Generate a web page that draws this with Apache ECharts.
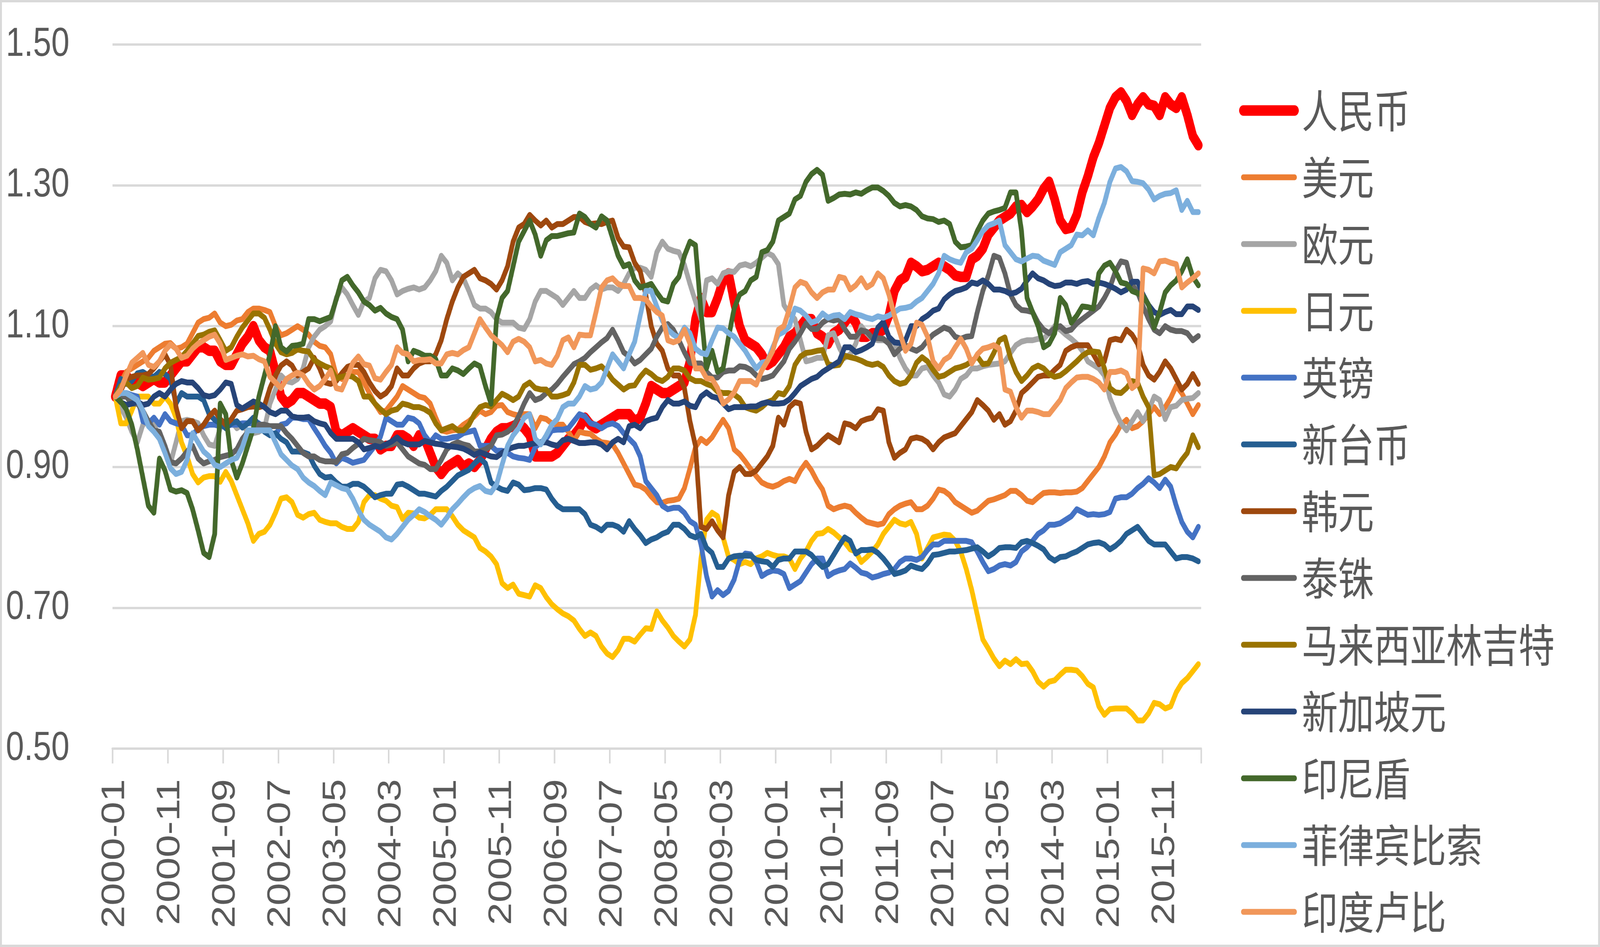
<!DOCTYPE html>
<html>
<head>
<meta charset="utf-8">
<script src="https://cdn.jsdelivr.net/npm/echarts@6/dist/echarts.min.js"></script>
<style>
html,body{margin:0;padding:0;background:#fff;overflow:hidden;width:100%;height:100%;}
#c{width:5094px;height:2425px;position:absolute;left:0;top:0;transform-origin:0 0;}
</style>
</head>
<body>
<div id="c"></div>
<script>
// ---- categories: monthly, 2000-01 .. 2016-05 ----
const startYear = 2000;
const monthCount = 197;
const categories = [];
for (let k = 0; k < monthCount; k++) {
  const y = startYear + Math.floor(k / 12);
  const m = (k % 12) + 1;
  categories.push(y + '-' + (m < 10 ? '0' + m : m));
}

const yTicks = [0.50, 0.70, 0.90, 1.10, 1.30, 1.50];

const seriesNames = ['人民币','美元','欧元','日元','英镑','新台币','韩元','泰铢','马来西亚林吉特','新加坡元','印尼盾','菲律宾比索','印度卢比'];
const seriesColors = ['#FF0000','#ED7D31','#A5A5A5','#FFC000','#4472C4','#255E91','#9E480E','#636363','#997300','#264478','#43682B','#7CAFDD','#F1975A'];

const cny = [
1.00,1.03,1.03,1.02,1.02,1.015,1.02,1.025,1.02,1.02,
1.03,1.04,1.05,1.05,1.06,1.07,1.07,1.065,1.065,1.05,
1.045,1.045,1.06,1.075,1.085,1.10,1.08,1.07,1.065,1.035,
1.00,0.99,0.995,1.005,1.005,1.0,0.995,0.99,0.99,0.985,
0.95,0.945,0.95,0.955,0.95,0.945,0.94,0.94,0.925,0.93,
0.93,0.945,0.945,0.94,0.93,0.945,0.94,0.92,0.90,0.89,
0.90,0.905,0.91,0.90,0.905,0.90,0.91,0.925,0.94,0.95,
0.955,0.955,0.958,0.962,0.955,0.945,0.915,0.915,0.915,0.915,
0.92,0.93,0.94,0.945,0.955,0.97,0.96,0.955,0.96,0.965,
0.97,0.975,0.975,0.975,0.965,0.97,0.99,1.015,1.01,1.005,
1.005,1.01,1.015,1.02,1.05,1.11,1.14,1.12,1.12,1.14,
1.165,1.175,1.135,1.10,1.08,1.075,1.07,1.06,1.045,1.05,
1.06,1.07,1.085,1.09,1.10,1.11,1.11,1.09,1.085,1.075,
1.09,1.095,1.105,1.115,1.105,1.085,1.085,1.09,1.09,1.095,
1.115,1.15,1.165,1.17,1.19,1.185,1.178,1.18,1.185,1.19,
1.185,1.18,1.172,1.17,1.17,1.195,1.20,1.21,1.23,1.24,
1.25,1.255,1.26,1.27,1.272,1.262,1.27,1.28,1.295,1.305,
1.28,1.25,1.238,1.24,1.258,1.29,1.313,1.34,1.36,1.385,
1.41,1.425,1.432,1.42,1.40,1.415,1.425,1.415,1.413,1.40,
1.425,1.415,1.41,1.425,1.40,1.37,1.357];

const usd = [
1.00,1.02,1.035,1.04,1.045,1.05,1.055,1.065,1.07,1.075,
1.076,1.068,1.07,1.075,1.09,1.105,1.11,1.112,1.118,1.105,
1.10,1.102,1.108,1.11,1.12,1.125,1.125,1.123,1.12,1.10,
1.087,1.09,1.095,1.10,1.095,1.088,1.078,1.072,1.07,1.06,
1.03,1.025,1.03,1.035,1.035,1.02,1.005,0.99,0.978,0.98,
0.99,1.0,1.015,1.01,1.005,1.0,0.998,0.99,0.97,0.952,
0.95,0.952,0.953,0.96,0.965,0.972,0.98,0.975,0.978,0.987,
0.988,0.978,0.975,0.973,0.975,0.975,0.955,0.97,0.968,0.962,
0.96,0.96,0.95,0.937,0.95,0.948,0.947,0.94,0.935,0.934,
0.932,0.92,0.905,0.89,0.875,0.873,0.868,0.858,0.85,0.849,
0.852,0.853,0.855,0.87,0.898,0.928,0.94,0.934,0.942,0.955,
0.967,0.955,0.925,0.918,0.908,0.897,0.887,0.878,0.874,0.872,
0.875,0.88,0.883,0.88,0.895,0.906,0.895,0.88,0.868,0.845,
0.84,0.843,0.845,0.843,0.835,0.828,0.822,0.82,0.818,0.82,
0.833,0.84,0.845,0.848,0.85,0.84,0.84,0.845,0.855,0.868,
0.866,0.86,0.85,0.845,0.84,0.835,0.838,0.845,0.852,0.854,
0.857,0.86,0.866,0.866,0.86,0.852,0.85,0.857,0.863,0.864,
0.864,0.863,0.864,0.864,0.865,0.87,0.88,0.89,0.90,0.915,
0.935,0.946,0.96,0.967,0.955,0.958,0.965,0.975,0.985,0.975,
0.985,0.998,1.015,1.005,0.99,0.975,0.988];

const eur = [
1.00,0.985,0.97,0.95,0.935,0.96,0.965,0.962,0.94,0.92,
0.905,0.935,0.965,0.967,0.965,0.962,0.945,0.932,0.93,0.955,
0.965,0.965,0.955,0.96,0.95,0.948,0.95,0.955,0.99,1.01,
1.03,1.022,1.02,1.025,1.04,1.07,1.085,1.095,1.10,1.107,
1.14,1.155,1.145,1.13,1.116,1.135,1.14,1.168,1.18,1.178,
1.165,1.145,1.15,1.153,1.155,1.152,1.155,1.165,1.178,1.20,
1.19,1.165,1.175,1.168,1.15,1.13,1.125,1.125,1.12,1.11,
1.105,1.105,1.105,1.098,1.096,1.11,1.135,1.15,1.15,1.145,
1.14,1.13,1.14,1.15,1.14,1.14,1.152,1.158,1.152,1.155,
1.155,1.15,1.16,1.175,1.183,1.183,1.18,1.17,1.205,1.22,
1.21,1.207,1.205,1.187,1.16,1.135,1.11,1.165,1.168,1.16,
1.175,1.178,1.177,1.186,1.188,1.185,1.19,1.197,1.204,1.20,
1.188,1.13,1.118,1.11,1.08,1.05,1.052,1.055,1.055,1.087,
1.09,1.07,1.055,1.06,1.075,1.10,1.09,1.082,1.08,1.08,
1.078,1.077,1.055,1.04,1.03,1.03,1.04,1.042,1.03,1.02,
1.003,1.0,1.01,1.025,1.03,1.04,1.04,1.043,1.045,1.046,
1.047,1.05,1.062,1.073,1.078,1.08,1.08,1.082,1.082,1.09,
1.10,1.095,1.088,1.082,1.075,1.065,1.05,1.045,1.04,1.03,
0.998,0.978,0.962,0.952,0.965,0.978,0.965,0.98,1.0,0.995,
0.968,0.985,0.987,0.995,0.997,0.998,1.005];

const jpy = [
1.00,0.962,0.962,0.98,1.0,1.0,1.0,0.99,0.99,1.0,
0.99,0.97,0.935,0.915,0.89,0.878,0.885,0.887,0.887,0.879,
0.893,0.88,0.86,0.84,0.82,0.795,0.805,0.808,0.818,0.835,
0.855,0.857,0.85,0.832,0.828,0.833,0.835,0.825,0.822,0.82,
0.82,0.815,0.812,0.812,0.822,0.85,0.86,0.86,0.855,0.852,
0.845,0.843,0.826,0.835,0.834,0.828,0.827,0.832,0.84,0.84,
0.84,0.83,0.818,0.81,0.805,0.80,0.785,0.78,0.773,0.762,
0.735,0.728,0.733,0.72,0.718,0.716,0.732,0.728,0.715,0.705,
0.698,0.692,0.688,0.682,0.67,0.66,0.665,0.66,0.645,0.635,
0.63,0.64,0.656,0.656,0.652,0.662,0.671,0.67,0.695,0.682,
0.672,0.66,0.652,0.645,0.655,0.69,0.77,0.825,0.835,0.83,
0.80,0.772,0.768,0.762,0.765,0.762,0.77,0.773,0.778,0.775,
0.773,0.773,0.77,0.755,0.77,0.78,0.795,0.805,0.806,0.812,
0.807,0.80,0.793,0.783,0.78,0.765,0.772,0.78,0.79,0.805,
0.815,0.825,0.82,0.818,0.822,0.805,0.77,0.785,0.80,0.802,
0.804,0.803,0.795,0.78,0.755,0.725,0.69,0.655,0.642,0.628,
0.617,0.625,0.62,0.627,0.62,0.621,0.61,0.595,0.588,0.595,
0.597,0.605,0.612,0.612,0.611,0.603,0.592,0.587,0.56,0.548,
0.556,0.557,0.557,0.557,0.55,0.54,0.54,0.55,0.565,0.563,
0.557,0.56,0.58,0.593,0.60,0.61,0.62];

const gbp = [
1.00,1.005,1.005,1.002,1.0,0.965,0.962,0.97,0.96,0.975,
0.965,0.962,0.96,0.945,0.945,0.955,0.958,0.96,0.96,0.958,
0.958,0.96,0.96,0.962,0.962,0.962,0.962,0.955,0.95,0.945,
0.96,0.962,0.97,0.97,0.968,0.968,0.955,0.943,0.93,0.92,
0.905,0.913,0.91,0.906,0.908,0.91,0.92,0.93,0.943,0.97,
0.965,0.96,0.96,0.97,0.968,0.962,0.945,0.935,0.945,0.94,
0.94,0.942,0.943,0.948,0.95,0.952,0.93,0.93,0.93,0.923,
0.923,0.92,0.915,0.913,0.912,0.91,0.928,0.935,0.94,0.952,
0.953,0.953,0.955,0.965,0.975,0.972,0.962,0.96,0.955,0.96,
0.962,0.958,0.948,0.94,0.932,0.915,0.88,0.87,0.86,0.845,
0.84,0.842,0.842,0.835,0.823,0.818,0.79,0.745,0.716,0.725,
0.718,0.724,0.74,0.768,0.777,0.776,0.765,0.745,0.75,0.753,
0.752,0.748,0.728,0.733,0.738,0.75,0.762,0.77,0.77,0.745,
0.75,0.753,0.755,0.763,0.757,0.75,0.748,0.743,0.745,0.748,
0.75,0.755,0.765,0.77,0.77,0.768,0.772,0.782,0.79,0.79,
0.795,0.795,0.795,0.795,0.795,0.793,0.78,0.765,0.752,0.755,
0.76,0.762,0.76,0.765,0.78,0.786,0.795,0.805,0.81,0.818,
0.818,0.82,0.825,0.83,0.84,0.836,0.832,0.833,0.832,0.833,
0.836,0.855,0.857,0.857,0.862,0.87,0.876,0.884,0.878,0.87,
0.882,0.872,0.845,0.822,0.808,0.80,0.815];

const twd = [
1.00,1.025,1.018,1.022,1.033,1.035,1.03,1.028,1.035,1.032,
1.025,0.99,1.005,1.0,1.0,1.0,0.995,0.975,0.967,0.962,
0.955,0.962,0.965,0.956,0.962,0.97,0.96,0.95,0.945,0.948,
0.94,0.935,0.922,0.922,0.921,0.918,0.902,0.89,0.885,0.886,
0.878,0.872,0.872,0.876,0.876,0.872,0.865,0.857,0.86,0.862,
0.862,0.875,0.876,0.872,0.867,0.862,0.862,0.86,0.858,0.866,
0.872,0.88,0.888,0.892,0.896,0.905,0.912,0.905,0.878,0.872,
0.868,0.866,0.878,0.875,0.867,0.868,0.87,0.87,0.868,0.855,
0.845,0.84,0.84,0.84,0.84,0.833,0.818,0.815,0.81,0.818,
0.818,0.815,0.808,0.823,0.812,0.803,0.792,0.797,0.80,0.805,
0.808,0.818,0.818,0.812,0.803,0.80,0.805,0.785,0.778,0.758,
0.758,0.77,0.773,0.774,0.774,0.774,0.768,0.766,0.765,0.758,
0.768,0.77,0.77,0.78,0.78,0.78,0.775,0.766,0.758,0.762,
0.775,0.788,0.80,0.795,0.777,0.782,0.782,0.783,0.778,0.77,
0.76,0.748,0.75,0.753,0.76,0.757,0.755,0.763,0.775,0.776,
0.778,0.78,0.78,0.781,0.782,0.784,0.786,0.78,0.773,0.778,
0.785,0.786,0.786,0.785,0.793,0.795,0.792,0.788,0.783,0.772,
0.767,0.772,0.773,0.777,0.78,0.785,0.79,0.792,0.793,0.79,
0.783,0.788,0.795,0.805,0.81,0.815,0.805,0.795,0.79,0.79,
0.79,0.78,0.77,0.772,0.772,0.77,0.766];

const krw = [
1.00,1.008,1.025,1.028,1.03,1.03,1.032,1.04,1.05,1.06,
1.045,0.985,0.955,0.965,0.965,0.952,0.96,0.972,0.98,0.968,
0.96,0.968,0.98,0.982,0.985,0.986,0.985,0.987,1.012,1.03,
1.044,1.05,1.044,1.03,1.035,1.04,1.055,1.04,1.02,1.018,
1.022,1.033,1.042,1.045,1.045,1.035,1.02,1.008,1.0,1.005,
1.015,1.04,1.03,1.03,1.04,1.047,1.05,1.05,1.06,1.08,
1.11,1.135,1.155,1.17,1.175,1.18,1.168,1.165,1.16,1.152,
1.165,1.185,1.22,1.24,1.245,1.258,1.25,1.243,1.25,1.24,
1.245,1.245,1.25,1.255,1.255,1.248,1.245,1.246,1.245,1.248,
1.25,1.225,1.213,1.212,1.19,1.178,1.145,1.10,1.075,1.065,
1.04,1.03,1.03,1.012,0.965,0.93,0.815,0.812,0.823,0.81,
0.80,0.86,0.893,0.90,0.89,0.89,0.895,0.905,0.915,0.93,
0.97,0.96,0.985,0.992,0.99,0.95,0.925,0.93,0.938,0.945,
0.94,0.935,0.962,0.96,0.955,0.965,0.968,0.97,0.982,0.98,
0.935,0.913,0.92,0.925,0.94,0.942,0.94,0.935,0.925,0.935,
0.942,0.945,0.948,0.958,0.968,0.978,0.995,0.988,0.98,0.967,
0.975,0.96,0.965,0.98,1.005,1.012,1.02,1.028,1.03,1.03,
1.038,1.045,1.065,1.07,1.073,1.073,1.073,1.06,1.046,1.05,
1.08,1.082,1.08,1.095,1.088,1.075,1.045,1.03,1.024,1.035,
1.05,1.04,1.025,1.01,1.018,1.032,1.018];

const thb = [
1.00,1.0,1.0,0.99,0.99,0.98,0.965,0.952,0.95,0.93,
0.907,0.905,0.912,0.922,0.93,0.912,0.905,0.908,0.91,0.914,
0.916,0.918,0.925,0.94,0.95,0.952,0.96,0.96,0.958,0.958,
0.958,0.948,0.94,0.93,0.92,0.915,0.915,0.91,0.908,0.908,
0.907,0.918,0.92,0.927,0.933,0.94,0.938,0.937,0.935,0.93,
0.932,0.935,0.925,0.915,0.91,0.905,0.903,0.897,0.897,0.91,
0.925,0.932,0.935,0.932,0.93,0.922,0.922,0.925,0.93,0.945,
0.946,0.95,0.957,0.972,0.99,1.005,0.995,0.998,1.005,1.01,
1.018,1.028,1.037,1.046,1.05,1.055,1.063,1.07,1.077,1.083,
1.095,1.08,1.063,1.057,1.047,1.052,1.06,1.068,1.085,1.098,
1.103,1.095,1.08,1.063,1.048,1.047,1.047,1.035,1.027,1.027,
1.035,1.037,1.037,1.043,1.042,1.038,1.03,1.025,1.027,1.03,
1.04,1.05,1.068,1.078,1.09,1.104,1.096,1.096,1.105,1.11,
1.108,1.11,1.096,1.085,1.085,1.094,1.092,1.083,1.083,1.082,
1.075,1.06,1.068,1.073,1.068,1.065,1.07,1.08,1.088,1.093,
1.098,1.095,1.085,1.082,1.085,1.086,1.12,1.15,1.172,1.20,
1.197,1.175,1.145,1.13,1.123,1.122,1.12,1.105,1.095,1.09,
1.097,1.10,1.093,1.095,1.104,1.11,1.116,1.122,1.128,1.14,
1.155,1.178,1.192,1.19,1.16,1.148,1.128,1.11,1.095,1.09,
1.10,1.095,1.093,1.093,1.09,1.08,1.086];

const myr = [
1.00,1.015,1.02,1.012,1.015,1.027,1.024,1.025,1.027,1.04,
1.048,1.052,1.056,1.065,1.075,1.086,1.088,1.092,1.094,1.08,
1.065,1.07,1.085,1.098,1.108,1.118,1.118,1.112,1.095,1.075,
1.063,1.06,1.062,1.067,1.065,1.064,1.052,1.047,1.043,1.04,
1.026,1.028,1.03,1.028,1.022,1.0,1.0,0.99,0.982,0.975,
0.98,0.982,0.99,0.988,0.985,0.985,0.982,0.977,0.962,0.952,
0.955,0.958,0.952,0.952,0.96,0.975,0.985,0.988,0.986,0.995,
1.004,1.0,0.995,1.0,1.015,1.02,1.012,1.01,1.01,1.0,
1.0,1.002,1.005,1.02,1.045,1.045,1.038,1.04,1.043,1.035,
1.024,1.017,1.01,1.015,1.016,1.028,1.037,1.032,1.025,1.022,
1.028,1.04,1.04,1.037,1.026,1.022,1.022,1.018,1.015,1.007,
1.005,1.005,1.003,0.997,0.985,0.982,0.98,0.985,0.992,0.995,
1.005,1.003,1.015,1.045,1.057,1.062,1.063,1.065,1.066,1.046,
1.044,1.045,1.058,1.056,1.054,1.051,1.047,1.045,1.047,1.042,
1.03,1.022,1.018,1.02,1.03,1.048,1.056,1.05,1.038,1.028,
1.03,1.035,1.04,1.042,1.045,1.05,1.057,1.046,1.047,1.062,
1.08,1.084,1.055,1.035,1.022,1.03,1.04,1.044,1.04,1.032,
1.028,1.03,1.036,1.043,1.05,1.058,1.063,1.064,1.063,1.04,
1.012,1.006,1.005,1.012,1.022,1.02,1.0,0.985,0.888,0.89,
0.895,0.90,0.898,0.91,0.92,0.945,0.928];

const sgd = [
1.00,0.992,0.988,0.99,0.993,0.988,0.99,1.0,1.005,1.0,
1.01,1.018,1.022,1.02,1.02,1.012,1.002,1.0,1.002,1.01,
1.02,1.018,0.988,0.983,0.988,0.993,0.99,0.985,0.978,0.975,
0.98,0.98,0.972,0.97,0.97,0.971,0.965,0.962,0.96,0.948,
0.94,0.94,0.94,0.94,0.935,0.925,0.927,0.93,0.928,0.932,
0.936,0.942,0.935,0.932,0.932,0.932,0.937,0.935,0.933,0.932,
0.93,0.929,0.928,0.926,0.922,0.917,0.921,0.918,0.915,0.914,
0.92,0.925,0.928,0.93,0.93,0.932,0.934,0.935,0.935,0.932,
0.93,0.938,0.94,0.937,0.934,0.934,0.935,0.935,0.932,0.925,
0.935,0.94,0.935,0.958,0.96,0.955,0.965,0.968,0.97,0.985,
0.995,0.99,0.99,0.993,0.987,0.985,1.0,1.006,1.0,0.998,
0.99,0.982,0.985,0.985,0.985,0.986,0.986,0.99,0.992,0.99,
0.99,0.991,0.996,1.005,1.015,1.02,1.025,1.028,1.035,1.04,
1.045,1.05,1.07,1.07,1.063,1.066,1.07,1.075,1.098,1.106,
1.085,1.077,1.076,1.08,1.10,1.10,1.11,1.115,1.122,1.125,
1.138,1.145,1.15,1.152,1.155,1.162,1.16,1.165,1.16,1.152,
1.152,1.15,1.146,1.148,1.153,1.165,1.175,1.168,1.165,1.16,
1.157,1.158,1.162,1.162,1.16,1.163,1.164,1.16,1.162,1.16,
1.157,1.153,1.148,1.152,1.163,1.163,1.145,1.13,1.12,1.116,
1.12,1.123,1.117,1.117,1.128,1.128,1.123];

const idr = [
1.00,0.993,0.982,0.96,0.925,0.885,0.845,0.835,0.912,0.895,
0.868,0.865,0.867,0.863,0.84,0.81,0.778,0.772,0.805,0.99,
0.975,0.91,0.885,0.905,0.93,0.955,1.0,1.03,1.06,1.10,
1.07,1.064,1.072,1.073,1.075,1.11,1.11,1.107,1.11,1.113,
1.138,1.165,1.17,1.158,1.148,1.135,1.13,1.122,1.126,1.118,
1.113,1.11,1.095,1.05,1.065,1.062,1.058,1.058,1.053,1.03,
1.03,1.04,1.037,1.032,1.04,1.047,1.043,1.015,0.99,1.11,
1.14,1.15,1.185,1.22,1.235,1.25,1.23,1.2,1.222,1.228,
1.228,1.23,1.232,1.233,1.26,1.255,1.245,1.24,1.256,1.25,
1.225,1.20,1.185,1.188,1.165,1.155,1.157,1.16,1.148,1.137,
1.135,1.16,1.17,1.20,1.22,1.215,1.12,1.04,1.065,1.035,
1.04,1.085,1.125,1.145,1.15,1.165,1.17,1.205,1.208,1.22,
1.25,1.255,1.26,1.28,1.285,1.305,1.316,1.322,1.315,1.278,
1.282,1.287,1.288,1.287,1.29,1.288,1.293,1.297,1.297,1.292,
1.285,1.275,1.27,1.272,1.27,1.265,1.256,1.253,1.252,1.248,
1.25,1.245,1.22,1.212,1.213,1.215,1.235,1.25,1.26,1.263,
1.265,1.268,1.29,1.29,1.235,1.14,1.12,1.10,1.07,1.075,
1.09,1.14,1.13,1.105,1.115,1.128,1.127,1.125,1.175,1.186,
1.19,1.178,1.162,1.16,1.15,1.147,1.143,1.13,1.098,1.12,
1.148,1.158,1.165,1.178,1.195,1.17,1.158];

const php = [
1.00,1.005,1.005,1.0,0.995,0.98,0.958,0.95,0.94,0.92,
0.898,0.89,0.893,0.91,0.948,0.935,0.922,0.915,0.903,0.90,
0.905,0.91,0.913,0.928,0.952,0.952,0.952,0.952,0.952,0.935,
0.918,0.91,0.902,0.897,0.885,0.878,0.873,0.866,0.86,0.878,
0.874,0.87,0.868,0.855,0.838,0.825,0.818,0.813,0.808,0.80,
0.797,0.805,0.815,0.825,0.832,0.84,0.836,0.83,0.825,0.818,
0.828,0.84,0.848,0.857,0.865,0.87,0.873,0.866,0.864,0.875,
0.903,0.93,0.945,0.955,0.97,0.975,0.94,0.932,0.945,0.96,
0.968,0.985,0.99,0.99,1.0,1.015,1.01,1.012,1.02,1.04,
1.06,1.05,1.04,1.06,1.078,1.115,1.15,1.15,1.128,1.108,
1.095,1.088,1.083,1.098,1.09,1.068,1.062,1.06,1.08,1.098,
1.097,1.09,1.085,1.075,1.065,1.052,1.04,1.048,1.05,1.07,
1.088,1.092,1.10,1.125,1.122,1.115,1.105,1.108,1.118,1.112,
1.115,1.116,1.11,1.12,1.117,1.115,1.112,1.11,1.114,1.112,
1.115,1.12,1.125,1.126,1.128,1.135,1.14,1.15,1.16,1.175,
1.20,1.195,1.192,1.19,1.205,1.21,1.222,1.235,1.243,1.246,
1.25,1.215,1.205,1.195,1.192,1.196,1.20,1.199,1.193,1.19,
1.187,1.205,1.21,1.215,1.23,1.229,1.236,1.229,1.254,1.275,
1.305,1.324,1.326,1.32,1.306,1.305,1.303,1.294,1.28,1.285,
1.288,1.289,1.293,1.265,1.278,1.262,1.262];

const inr = [
1.00,1.01,1.03,1.048,1.055,1.062,1.045,1.042,1.05,1.065,
1.074,1.068,1.055,1.058,1.068,1.075,1.08,1.085,1.088,1.075,
1.052,1.055,1.058,1.06,1.057,1.058,1.053,1.05,1.028,1.02,
1.012,1.025,1.03,1.034,1.03,1.018,1.01,1.015,1.025,1.037,
1.012,1.01,1.028,1.048,1.057,1.046,1.044,1.026,1.024,1.035,
1.045,1.07,1.062,1.06,1.05,1.052,1.052,1.053,1.047,1.047,
1.06,1.062,1.06,1.066,1.07,1.09,1.11,1.098,1.087,1.08,
1.073,1.063,1.078,1.082,1.078,1.07,1.05,1.052,1.047,1.045,
1.058,1.08,1.084,1.07,1.088,1.087,1.087,1.12,1.155,1.165,
1.168,1.16,1.157,1.157,1.14,1.14,1.138,1.128,1.12,1.115,
1.08,1.077,1.08,1.095,1.075,1.04,1.04,1.026,1.025,1.012,
0.99,0.996,1.006,1.022,1.022,1.022,1.017,1.037,1.05,1.065,
1.095,1.10,1.125,1.155,1.163,1.16,1.148,1.14,1.148,1.152,
1.152,1.17,1.168,1.152,1.158,1.168,1.155,1.16,1.175,1.168,
1.145,1.115,1.09,1.065,1.075,1.105,1.102,1.085,1.05,1.04,
1.052,1.057,1.07,1.082,1.068,1.047,1.06,1.068,1.07,1.073,
1.068,1.01,1.007,0.985,0.97,0.98,0.98,0.978,0.975,0.975,
0.985,0.995,1.012,1.02,1.027,1.028,1.028,1.025,1.02,1.01,
1.035,1.035,1.037,1.033,1.012,1.018,1.182,1.18,1.175,1.192,
1.193,1.19,1.188,1.155,1.162,1.168,1.175];

const seriesData = [cny, usd, eur, jpy, gbp, twd, krw, thb, myr, sgd, idr, php, inr];

// The drawing is laid out on a 5094 x 2425 board; if the browser's viewport is
// smaller, the board is scaled to fill the viewport exactly.
const BOARD_W = 5094, BOARD_H = 2425;
const box = document.getElementById('c');
const sx = (window.innerWidth || BOARD_W) / BOARD_W;
const sy = (window.innerHeight || BOARD_H) / BOARD_H;
if (Math.abs(sx - 1) > 0.001 || Math.abs(sy - 1) > 0.001) {
  box.style.transform = 'scale(' + sx + ',' + sy + ')';
}

const TEXT = '#595959';
const GRIDC = '#D9D9D9';
const latin = "'Liberation Sans', Arial, sans-serif";
const cjk = "'Noto Sans CJK SC', 'Liberation Sans', sans-serif";

const series = seriesNames.map((name, k) => ({
  name: name,
  type: 'line',
  data: seriesData[k],
  symbol: 'none',
  showSymbol: false,
  smooth: false,
  animation: false,
  silent: true,
  lineStyle: { width: k === 0 ? 27 : 15, color: seriesColors[k], cap: 'round', join: 'round' },
  itemStyle: { color: seriesColors[k] },
  emphasis: { disabled: true }
}));

const legendData = seriesNames.map((name, k) => ({
  name: name,
  lineStyle: { width: k === 0 ? 27 : 15, cap: 'round' }
}));

const chart = echarts.init(box, null, { width: BOARD_W, height: BOARD_H });
chart.setOption({
  backgroundColor: '#ffffff',
  animation: false,
  graphic: [{
    type: 'rect', silent: true, z: -10,
    shape: { x: 3, y: 3, width: BOARD_W - 6, height: BOARD_H - 6 },
    style: { fill: 'transparent', stroke: GRIDC, lineWidth: 6 }
  }],
  grid: { left: 358, right: 1270, top: 114, bottom: 508, containLabel: false },
  legend: {
    orient: 'vertical',
    left: 3940,
    top: 208,
    itemWidth: 163,
    itemHeight: 10,
    itemGap: 31,
    selectedMode: false,
    lineStyle: { width: 15, cap: 'round' },
    textStyle: { fontSize: 115, color: TEXT, fontFamily: cjk, lineHeight: 140, padding: [0, 0, 0, 18] },
    data: legendData
  },
  xAxis: {
    type: 'category',
    data: categories,
    boundaryGap: true,
    axisLine: { show: true, lineStyle: { color: GRIDC, width: 6 } },
    axisTick: { show: true, interval: 9, length: 38, lineStyle: { color: GRIDC, width: 5 } },
    axisLabel: { interval: 9, rotate: 90, margin: 78, fontSize: 104, color: TEXT, fontFamily: latin },
    splitLine: { show: false }
  },
  yAxis: {
    type: 'value',
    min: yTicks[0],
    max: yTicks[yTicks.length - 1],
    interval: 0.2,
    axisLine: { show: false },
    axisTick: { show: false },
    axisLabel: { margin: 137, fontSize: 104, color: TEXT, fontFamily: latin, formatter: v => Number(v).toFixed(2) },
    splitLine: { show: true, lineStyle: { color: GRIDC, width: 6 } }
  },
  series: series
});
</script>
</body>
</html>
